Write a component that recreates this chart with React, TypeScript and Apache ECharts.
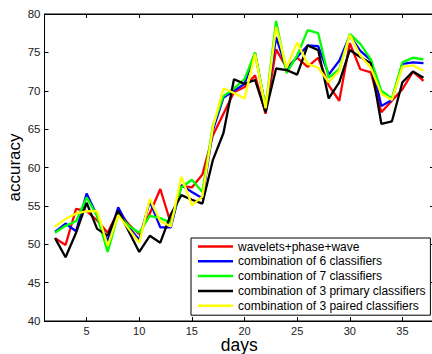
import React, { useEffect, useRef } from "react";
import * as echarts from "echarts";

const days = [2, 3, 4, 5, 6, 7, 8, 9, 10, 11, 12, 13, 14, 15, 16, 17, 18, 19, 20, 21, 22, 23, 24, 25, 26, 27, 28, 29, 30, 31, 32, 33, 34, 35, 36, 37];

const wavelets = [50.8, 49.9, 54.6, 54.3, 53.1, 51.5, 54.3, 52.6, 51.3, 54.0, 57.2, 52.7, 57.6, 57.4, 59.1, 64.2, 67.0, 69.8, 70.5, 72.0, 67.0, 75.4, 73.0, 74.3, 73.1, 74.3, 70.7, 68.7, 76.2, 72.8, 72.4, 67.2, 68.7, 70.2, 72.5, 71.3];
const comb6 = [51.6, 52.7, 51.7, 56.6, 53.7, 50.4, 54.8, 52.2, 50.6, 55.6, 52.2, 52.2, 57.7, 56.8, 56.0, 64.9, 69.1, 70.0, 70.9, 74.9, 67.8, 77.0, 72.8, 74.4, 75.9, 75.8, 72.1, 73.9, 77.2, 75.2, 74.0, 68.0, 68.8, 73.5, 73.7, 73.6];
const comb7 = [51.5, 52.4, 53.0, 56.1, 53.7, 49.0, 53.9, 52.4, 51.5, 53.7, 53.4, 52.8, 57.4, 58.4, 56.8, 65.5, 69.3, 70.3, 71.5, 75.0, 67.8, 79.1, 72.3, 74.6, 77.9, 77.5, 71.7, 72.8, 77.4, 76.1, 74.1, 70.0, 69.0, 73.7, 74.3, 74.1];
const comb3primary = [50.8, 48.3, 51.5, 55.4, 52.0, 51.1, 54.4, 51.7, 49.0, 51.1, 50.2, 53.9, 56.4, 55.8, 55.3, 61.0, 64.5, 71.5, 70.9, 71.4, 67.2, 72.9, 72.7, 72.1, 75.9, 75.3, 69.0, 71.1, 75.3, 74.4, 73.6, 65.7, 66.0, 71.1, 72.5, 71.7];
const comb3paired = [52.3, 53.3, 54.0, 54.3, 54.3, 49.8, 53.8, 52.0, 50.2, 55.9, 53.0, 52.3, 58.8, 55.1, 56.2, 65.3, 70.3, 69.7, 69.0, 74.8, 67.7, 78.3, 73.0, 76.3, 73.5, 73.0, 71.1, 72.6, 77.3, 74.6, 73.0, 69.6, 68.8, 73.1, 73.3, 72.6];

const seriesNames = [
  "wavelets+phase+wave",
  "combination of 6 classifiers",
  "combination of 7 classifiers",
  "combination of 3 primary classifiers",
  "combination of 3 paired classifiers",
];
const seriesValues = [wavelets, comb6, comb7, comb3primary, comb3paired];
const seriesColors = ["#ff0000", "#0000ff", "#00ff00", "#000000", "#ffff00"];

const xTicks = [5, 10, 15, 20, 25, 30, 35];
const xMin = 1;
const xMax = 38;
const yMin = 40;
const yMax = 80;

export default function App() {
  const ref = useRef<HTMLDivElement>(null);
  useEffect(() => {
    document.body.style.margin = "0";
    const chart = echarts.init(ref.current!, null, { renderer: "svg" });
    const font = "'Liberation Sans', Arial, Helvetica, sans-serif";
    const tickColor = "#000";
    chart.setOption({
      animation: false,
      backgroundColor: "#fff",
      textStyle: { fontFamily: font },
      grid: {
        left: 44.5,
        top: 14,
        width: 389.5,
        height: 307,
        containLabel: false,
        outerBoundsMode: "none",
        show: true,
        borderColor: "#000",
        borderWidth: 1,
        backgroundColor: "transparent",
      },
      legend: {
        data: seriesNames,
        orient: "vertical",
        left: 191,
        top: 238,
        icon: "rect",
        itemWidth: 35,
        itemHeight: 2.5,
        itemGap: 0.8,
        padding: [1.5, 5, 2.5, 7],
        borderColor: "#000",
        borderWidth: 1,
        backgroundColor: "#fff",
        z: 10,
        textStyle: { fontSize: 12, fontFamily: font, color: "#000", lineHeight: 14 },
      },
      xAxis: [
        {
          type: "value",
          min: xMin,
          max: xMax,
          name: "days",
          nameLocation: "middle",
          nameGap: 17.5,
          nameMoveOverlap: false,
          nameTextStyle: { fontSize: 17.5, lineHeight: 12, color: "#000", fontFamily: font },
          axisLine: { show: true, lineStyle: { color: "#000", width: 1 } },
          axisTick: { show: true, inside: true, length: 4, customValues: xTicks, lineStyle: { color: tickColor } },
          axisLabel: { show: true, customValues: xTicks, fontSize: 11, color: "#222", margin: 4.5, fontFamily: font },
          splitLine: { show: false },
        },
        {
          type: "value",
          min: xMin,
          max: xMax,
          position: "top",
          axisLine: { show: true, lineStyle: { color: "#000", width: 1 } },
          axisTick: { show: true, inside: true, length: 4, customValues: xTicks, lineStyle: { color: tickColor } },
          axisLabel: { show: false },
          splitLine: { show: false },
        },
      ],
      yAxis: [
        {
          type: "value",
          min: yMin,
          max: yMax,
          interval: 5,
          name: "accuracy",
          nameLocation: "middle",
          nameGap: 22,
          nameMoveOverlap: false,
          nameTextStyle: { fontSize: 17, color: "#000", fontFamily: font },
          axisLine: { show: true, lineStyle: { color: "#000", width: 1 } },
          axisTick: { show: true, inside: true, length: 4, lineStyle: { color: tickColor } },
          axisLabel: { show: true, fontSize: 11.5, color: "#222", margin: 4, fontFamily: font },
          splitLine: { show: false },
        },
        {
          type: "value",
          min: yMin,
          max: yMax,
          interval: 5,
          position: "right",
          axisLine: { show: true, lineStyle: { color: "#000", width: 1 } },
          axisTick: { show: true, inside: true, length: 4, lineStyle: { color: tickColor } },
          axisLabel: { show: false },
          splitLine: { show: false },
        },
      ],
      series: seriesNames.map((name, i) => ({
        name,
        type: "line",
        xAxisIndex: 0,
        yAxisIndex: 0,
        showSymbol: false,
        symbol: "none",
        color: seriesColors[i],
        lineStyle: { color: seriesColors[i], width: 2.3 },
        data: days.map((d, j) => [d, seriesValues[i][j]]),
        z: 2 + i,
      })),
    });
    return () => chart.dispose();
  }, []);
  return (
    <div
      ref={ref}
      style={{ position: "fixed", left: 0, top: 0, width: 432, height: 354 }}
    />
  );
}
